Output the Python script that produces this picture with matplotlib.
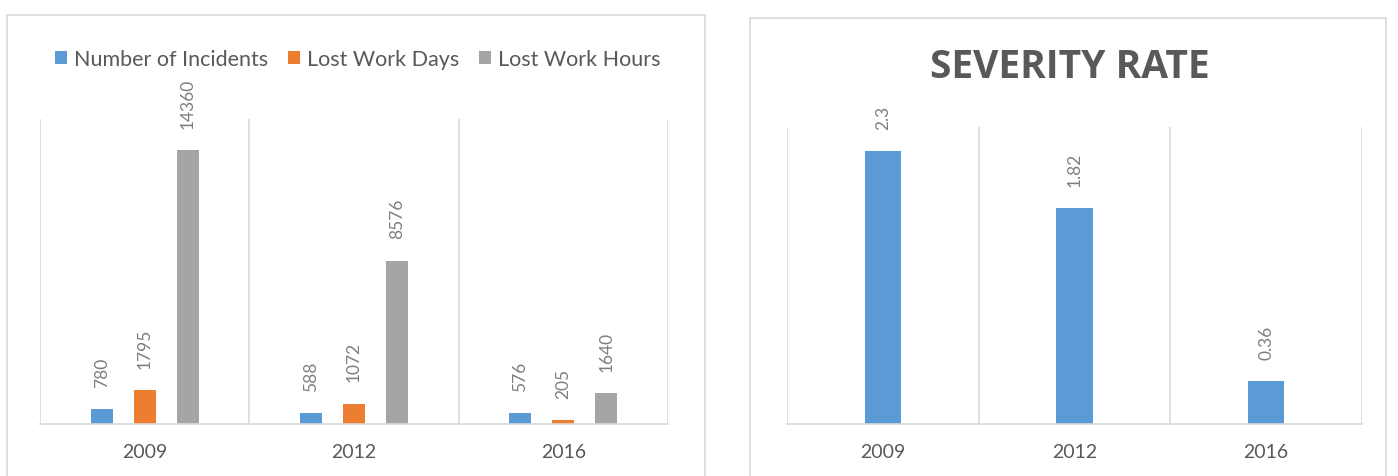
import matplotlib
matplotlib.use("Agg")
import matplotlib.pyplot as plt
from matplotlib.patches import Rectangle
import numpy as np

years = ["2009", "2012", "2016"]
series_names = ["Number of Incidents", "Lost Work Days", "Lost Work Hours"]
incidents = [780, 588, 576]
lost_days = [1795, 1072, 205]
lost_hours = [14360, 8576, 1640]
severity = [2.3, 1.82, 0.36]
severity_labels = ["2.3", "1.82", "0.36"]

colors = ["#5b9bd5", "#ed7d31", "#a5a5a5"]
grid_c = "#d9d9d9"
text_c = "#595959"
label_c = "#7f7f7f"

plt.rcParams['font.family'] = ['Lato', 'DejaVu Sans']

W, H = 1398, 477
fig = plt.figure(figsize=(W / 100, H / 100), dpi=100)

# panel borders
def border(x0, y0, x1, y1):
    fig.patches.append(Rectangle((x0 / W, 1 - y1 / H), (x1 - x0) / W, (y1 - y0) / H,
                                 transform=fig.transFigure, fill=False,
                                 edgecolor=grid_c, linewidth=1.2, zorder=0))
border(7, 16, 705, 490)
border(750, 19, 1386, 490)

def style_axes(ax, n):
    ax.set_xlim(0, n)
    for s in ["top", "right", "left"]:
        ax.spines[s].set_visible(False)
    ax.spines["bottom"].set_color(grid_c)
    ax.spines["bottom"].set_linewidth(1.2)
    ax.set_yticks([])
    ax.set_xticks(np.arange(n) + 0.5)
    ax.set_xticklabels(years, color=text_c, fontsize=14)
    ax.tick_params(axis="x", length=0, pad=14)
    for b in range(n + 1):
        ax.axvline(b, color=grid_c, linewidth=1.2, zorder=0)

# Left chart
ax1 = fig.add_axes([40 / W, (H - 425) / H, 628 / W, 305 / H])
ax1.set_ylim(0, 16000)
style_axes(ax1, 3)
x = np.arange(3) + 0.5
offsets = [-0.205, 0.0, 0.205]
bw = 0.105
handles = []
for vals, off, c, name in zip([incidents, lost_days, lost_hours], offsets, colors, series_names):
    bars = ax1.bar(x + off, vals, width=bw, color=c, label=name, zorder=2)
    handles.append(bars)
    for xi, v in zip(x + off, vals):
        ax1.annotate(str(v), (xi, v), xytext=(0, 16), textcoords="offset points",
                     rotation=90, ha="center", va="bottom", fontsize=12.5, color=label_c)
leg = fig.legend(handles=handles, labels=series_names, loc="center",
                 bbox_to_anchor=(358 / W, 1 - 60 / H), ncol=3, frameon=False,
                 fontsize=15.5, handlelength=0.55, handleheight=0.55,
                 handletextpad=0.35, columnspacing=0.9, labelcolor=text_c)

# Right chart
ax2 = fig.add_axes([787 / W, (H - 425) / H, 575 / W, 297 / H])
ax2.set_ylim(0, 2.5)
style_axes(ax2, 3)
ax2.bar(x, severity, width=0.19, color=colors[0], zorder=2)
for xi, v, s in zip(x, severity, severity_labels):
    ax2.annotate(s, (xi, v), xytext=(0, 16), textcoords="offset points",
                 rotation=90, ha="center", va="bottom", fontsize=12.5, color=label_c)
fig.text(1070 / W, 1 - 68 / H, "SEVERITY RATE",
         ha="center", va="center", fontsize=28, fontweight="bold", color=text_c,
         family=["Open Sans", "DejaVu Sans"])

fig.savefig("out.png", dpi=100)
